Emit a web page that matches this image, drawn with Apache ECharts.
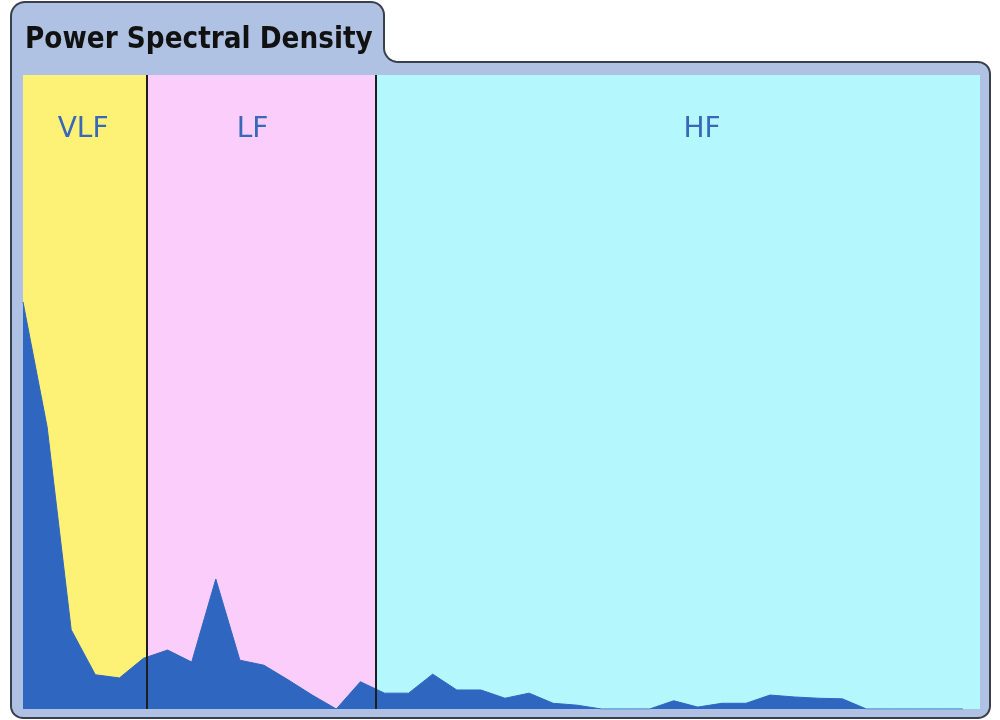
<!DOCTYPE html>
<html>
<head>
<meta charset="utf-8">
<script src="https://cdn.jsdelivr.net/npm/echarts@6/dist/echarts.min.js"></script>
<style>
html,body{margin:0;padding:0;background:#ffffff;}
#chart{width:1000px;height:720px;}
</style>
</head>
<body>
<div id="chart"></div>
<script>
// ---------------- data ----------------
const chartTitle = 'Power Spectral Density';
const bandNames = ['VLF', 'LF', 'HF'];
// band limits, in spectral-bin units (x axis)
const bandEdges = [0, 5.15, 14.65, 39.71];
// power per spectral bin (relative units, 0-100 full scale)
const psdValues = [
  64.2, 44.5, 12.5, 5.4, 4.9, 8.0, 9.3, 7.4, 20.5, 7.7,
  6.9, 4.6, 2.2, 0.0, 4.3, 2.5, 2.5, 5.5, 3.0, 3.0,
  1.7, 2.5, 0.9, 0.6, 0.0, 0.0, 0.0, 1.3, 0.3, 0.9,
  0.9, 2.2, 1.9, 1.7, 1.6, 0.0, 0.0, 0.0, 0.0, 0.0
];
const xMax = 39.71;
const yMax = 100;

// ---------------- styles ----------------
const bandFill = ['#FEF276', '#FBCDFB', '#B4F8FD'];
const bandLabelOffset = [[-2, 0], [-9, 0], [24, 0]];
const areaColor = '#2F66C0';
const panelFill = '#AFC2E4';
const panelStroke = '#3A3F4C';

// panel outline with a title tab (rounded corners)
function arc(cx, cy, r, a0, a1, n) {
  const pts = [];
  for (let i = 0; i <= n; i++) {
    const a = a0 + (a1 - a0) * i / n;
    pts.push([cx + r * Math.cos(a), cy + r * Math.sin(a)]);
  }
  return pts;
}
const P = Math.PI;
const panelPoints = [].concat(
  arc(25, 16, 14, P, 1.5 * P, 10),
  arc(371, 15, 13, 1.5 * P, 2 * P, 10),
  arc(398, 48, 14, P, 0.5 * P, 10),
  arc(978, 74, 12, 1.5 * P, 2 * P, 10),
  arc(978, 706, 12, 0, 0.5 * P, 10),
  arc(23, 706, 12, 0.5 * P, P, 10)
);

// build series data
const psdData = psdValues.map((v, i) => [i, v]);
const bandAreas = bandNames.map((name, i) => [
  {
    name: name,
    xAxis: bandEdges[i],
    itemStyle: { color: bandFill[i], opacity: 1, borderWidth: 0 },
    label: { offset: bandLabelOffset[i] }
  },
  { xAxis: bandEdges[i + 1] }
]);
const bandLines = bandEdges.slice(1, -1).map(x => ({ xAxis: x }));

const chart = echarts.init(document.getElementById('chart'), null, { renderer: 'canvas' });
chart.setOption({
  animation: false,
  backgroundColor: '#ffffff',
  graphic: [
    {
      type: 'polygon',
      z: -10,
      silent: true,
      shape: { points: panelPoints },
      style: { fill: panelFill, stroke: panelStroke, lineWidth: 2 }
    },
    {
      type: 'text',
      z: 10,
      silent: true,
      x: 25,
      y: 40,
      scaleX: 0.85,
      scaleY: 1,
      style: {
        text: chartTitle,
        font: 'bold 31px "DejaVu Sans"',
        fill: '#111111',
        align: 'left',
        verticalAlign: 'middle',
        textAlign: 'left',
        textVerticalAlign: 'middle'
      }
    }
  ],
  grid: { left: 23, right: 20, top: 75, bottom: 11, containLabel: false },
  xAxis: {
    type: 'value', min: 0, max: xMax, show: false
  },
  yAxis: {
    type: 'value', min: 0, max: yMax, show: false
  },
  series: [
    {
      name: 'bands',
      type: 'line',
      z: 1,
      silent: true,
      data: psdData,
      showSymbol: false,
      lineStyle: { opacity: 0 },
      markArea: {
        silent: true,
        label: {
          show: true,
          position: 'insideTop',
          distance: 41,
          color: '#3A68B8',
          fontFamily: 'DejaVu Sans',
          fontSize: 28
        },
        data: bandAreas
      },
      markLine: {
        silent: true,
        symbol: ['none', 'none'],
        label: { show: false },
        lineStyle: { color: '#1E1E1E', width: 2, type: 'solid' },
        data: bandLines
      }
    },
    {
      name: 'PSD',
      type: 'line',
      z: 3,
      silent: true,
      data: psdData,
      showSymbol: false,
      smooth: false,
      lineStyle: { color: areaColor, width: 1 },
      areaStyle: { color: areaColor, opacity: 1 }
    }
  ]
});
</script>
</body>
</html>
